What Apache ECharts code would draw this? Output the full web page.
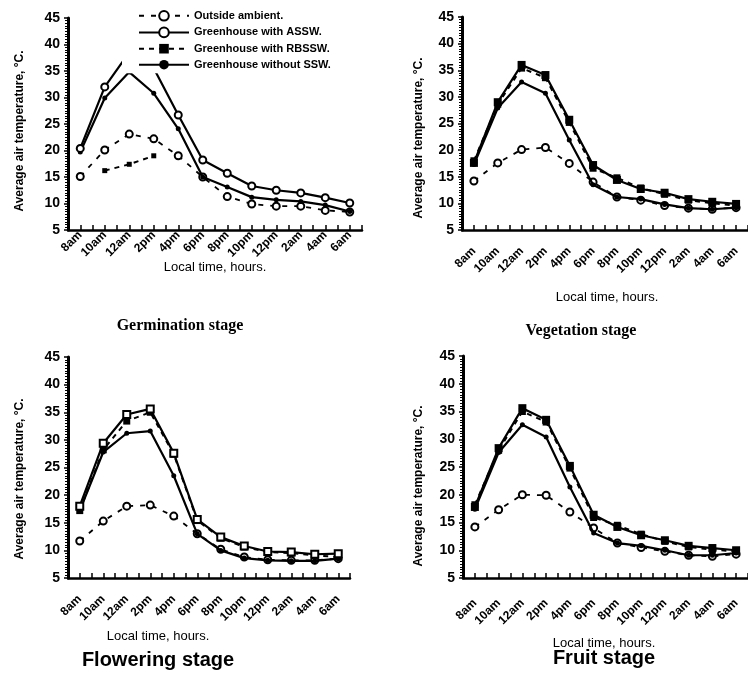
<!DOCTYPE html>
<html>
<head>
<meta charset="utf-8">
<script src="https://cdn.jsdelivr.net/npm/echarts@6/dist/echarts.min.js"></script>
<style>html,body{margin:0;padding:0;background:#fff}#c{width:748px;height:675px}</style>
</head>
<body>
<div id="c"></div>
<script>
// ---- data ----
const categories = ['8am','10am','12am','2pm','4pm','6pm','8pm','10pm','12pm','2am','4am','6am'];
const seriesNames = ['Outside ambient.','Greenhouse with ASSW.','Greenhouse with RBSSW.','Greenhouse without SSW.'];
const yTicks = {min: 5, max: 45, interval: 5};

// Germination stage
const outside1 = [15.1, 20.1, 23.1, 22.2, 19.0, 15.0, 11.3, 9.9, 9.5, 9.5, 8.7, 8.4];
const assw1    = [20.4, 32.0, 38.5, 35.5, 26.7, 18.2, 15.7, 13.3, 12.5, 12.0, 11.1, 10.1];
const rbssw1   = [null, 16.2, 17.4, 19.0, null, null, null, null, null, null, null, null];
const without1 = [19.7, 29.9, 34.8, 30.8, 24.1, 15.0, 13.1, 11.2, 10.7, 10.4, 9.7, 8.5];
// Vegetation stage
const outside2 = [14.2, 17.6, 20.1, 20.5, 17.5, 14.0, 11.2, 10.6, 9.6, 9.1, 8.9, 9.2];
const assw2    = [17.6, 29.0, 36.0, 34.1, 25.7, 17.2, 14.4, 12.7, 12.0, 10.8, 10.3, 9.9];
const rbssw2   = [18.0, 28.6, 35.4, 33.6, 25.2, 16.6, 14.8, 12.9, 11.7, 10.6, 10.0, 9.6];
const without2 = [17.3, 27.9, 32.8, 30.7, 21.9, 13.5, 11.2, 10.8, 9.8, 9.1, 8.9, 9.2];
// Flowering stage
const outside3 = [11.7, 15.3, 18.0, 18.2, 16.2, 13.0, 10.2, 8.8, 8.3, 8.2, 8.2, 8.5];
const assw3    = [18.0, 29.4, 34.6, 35.6, 27.6, 15.6, 12.4, 10.8, 9.8, 9.7, 9.3, 9.4];
const rbssw3   = [17.2, 28.2, 33.4, 35.0, 27.4, 15.4, 12.2, 10.6, 9.7, 9.5, 9.1, 8.8];
const without3 = [17.2, 27.8, 31.2, 31.6, 23.5, 13.0, 10.0, 8.6, 8.2, 8.1, 8.1, 8.5];
// Fruit stage
const outside4 = [14.2, 17.3, 20.0, 19.9, 16.9, 14.0, 11.3, 10.5, 9.8, 9.1, 8.9, 9.3];
const assw4    = [17.8, 28.4, 35.6, 33.5, 25.2, 16.4, 14.2, 12.7, 11.8, 10.8, 10.4, 10.0];
const rbssw4   = [18.2, 28.0, 35.0, 33.1, 24.8, 15.9, 14.5, 12.9, 11.6, 10.6, 10.1, 9.8];
const without4 = [17.4, 27.6, 32.6, 30.4, 21.4, 13.1, 11.3, 10.8, 10.0, 9.1, 9.1, 9.5];

const panels = [
  {outside: outside1, assw: assw1, rbssw: rbssw1, without: without1},
  {outside: outside2, assw: assw2, rbssw: rbssw2, without: without2},
  {outside: outside3, assw: assw3, rbssw: rbssw3, without: without3},
  {outside: outside4, assw: assw4, rbssw: rbssw4, without: without4}
];
const stageTitles = ['Germination stage','Vegetation stage','Flowering stage','Fruit stage'];
const xName = 'Local time, hours.';
const yName = 'Average air temperature, °C.';

// ---- layout ----
const grids = [
  {left: 68, top: 18, width: 294, height: 212},
  {left: 462, top: 17, width: 296, height: 213},
  {left: 68, top: 357, width: 282, height: 221},
  {left: 463, top: 356, width: 295, height: 222}
];
const labelMargins = [3, 19, 19, 23];
const asswSymbols = ['emptyCircle', 'rect', 'emptyRect', 'rect'];
const FONT = '"Liberation Sans", Arial, sans-serif';
const halfCats = categories.flatMap(c => [c + '-a', c + '-b']);

const xAxis = [], yAxis = [], series = [];
grids.forEach((g, i) => {
  xAxis.push({
    type: 'category', gridIndex: i, data: categories, boundaryGap: true,
    axisLine: {lineStyle: {color: '#000', width: 2.5}},
    axisTick: {show: false},
    axisLabel: {rotate: 45, interval: 0, color: '#000', fontFamily: FONT, fontWeight: 'bold', fontSize: 12, margin: labelMargins[i]},
    splitLine: {show: false}
  });
  xAxis.push({
    type: 'category', gridIndex: i, data: halfCats, boundaryGap: true, position: 'bottom',
    axisLine: {show: false},
    axisTick: {show: true, inside: true, length: 5, interval: 0, lineStyle: {color: '#000', width: 1.5}},
    axisLabel: {show: false}, splitLine: {show: false}
  });
  yAxis.push({
    type: 'value', gridIndex: i, min: yTicks.min, max: yTicks.max, interval: yTicks.interval,
    axisLine: {show: true, lineStyle: {color: '#000', width: 3}},
    axisTick: {show: true, length: 4, lineStyle: {color: '#000', width: 1.5}},
    minorTick: {show: true, splitNumber: 10, length: 3, lineStyle: {color: '#000', width: 1}},
    axisLabel: {color: '#000', fontFamily: FONT, fontWeight: 'bold', fontSize: 14, margin: 8},
    splitLine: {show: false}
  });
  const p = panels[i];
  series.push({
    name: seriesNames[0], type: 'line', xAxisIndex: 2 * i, yAxisIndex: i, data: p.outside,
    symbol: 'emptyCircle', symbolSize: 7, showAllSymbol: true,
    lineStyle: {color: '#000', width: 1.8, type: [5, 7]},
    itemStyle: {color: '#000', borderWidth: 1.8}, z: 2
  });
  series.push({
    name: seriesNames[2], type: 'line', xAxisIndex: 2 * i, yAxisIndex: i, data: p.rbssw,
    symbol: 'rect', symbolSize: i === 0 ? 5 : 7, showAllSymbol: true, connectNulls: false,
    lineStyle: {color: '#000', width: 2, type: [5, 5]},
    itemStyle: {color: '#000'}, z: 3
  });
  series.push({
    name: seriesNames[3], type: 'line', xAxisIndex: 2 * i, yAxisIndex: i, data: p.without,
    symbol: 'circle', symbolSize: 5, showAllSymbol: true,
    lineStyle: {color: '#000', width: 2.2},
    itemStyle: {color: '#000'}, z: 3
  });
  series.push({
    name: seriesNames[1], type: 'line', xAxisIndex: 2 * i, yAxisIndex: i, data: p.assw,
    symbol: asswSymbols[i], symbolSize: (i === 1 || i === 3) ? 8 : 7, showAllSymbol: true,
    lineStyle: {color: '#000', width: 2.2},
    itemStyle: {color: '#000', borderWidth: 1.8}, z: 4
  });
});

const graphic = [];
const xNamePos = [[215, 267], [607, 297], [158, 636], [604, 643]];
const yNamePos = [[20, 131], [419, 138], [20, 479], [419, 486]];
const titlePos = [[180, 326], [581, 331], [158, 660], [604, 658]];
const titleFont = ['bold 16px "Liberation Serif", "Times New Roman", serif',
                   'bold 16px "Liberation Serif", "Times New Roman", serif',
                   'bold 20px ' + FONT, 'bold 20px ' + FONT];
for (let i = 0; i < 4; i++) {
  graphic.push({type: 'text', x: xNamePos[i][0], y: xNamePos[i][1], z: 10,
    style: {text: xName, font: '13px ' + FONT, fill: '#000', textAlign: 'center', textVerticalAlign: 'middle'}});
  graphic.push({type: 'text', x: yNamePos[i][0], y: yNamePos[i][1], rotation: Math.PI / 2, z: 10,
    style: {text: yName, font: 'bold 12px ' + FONT, fill: '#000', textAlign: 'center', textVerticalAlign: 'middle'}});
  graphic.push({type: 'text', x: titlePos[i][0], y: titlePos[i][1], z: 10,
    style: {text: stageTitles[i], font: titleFont[i], fill: '#000', textAlign: 'center', textVerticalAlign: 'middle'}});
}

const chart = echarts.init(document.getElementById('c'), null, {renderer: 'canvas'});
chart.setOption({
  animation: false,
  backgroundColor: '#fff',
  grid: grids,
  xAxis: xAxis,
  yAxis: yAxis,
  legend: {
    data: seriesNames, orient: 'vertical', left: 122, top: 7,
    itemWidth: 50, itemHeight: 12, itemGap: 5,
    padding: [3, 6, 3, 16], backgroundColor: '#fff', z: 20,
    textStyle: {color: '#000', fontFamily: FONT, fontWeight: 'bold', fontSize: 11}
  },
  graphic: graphic,
  series: series
});
</script>
</body>
</html>
